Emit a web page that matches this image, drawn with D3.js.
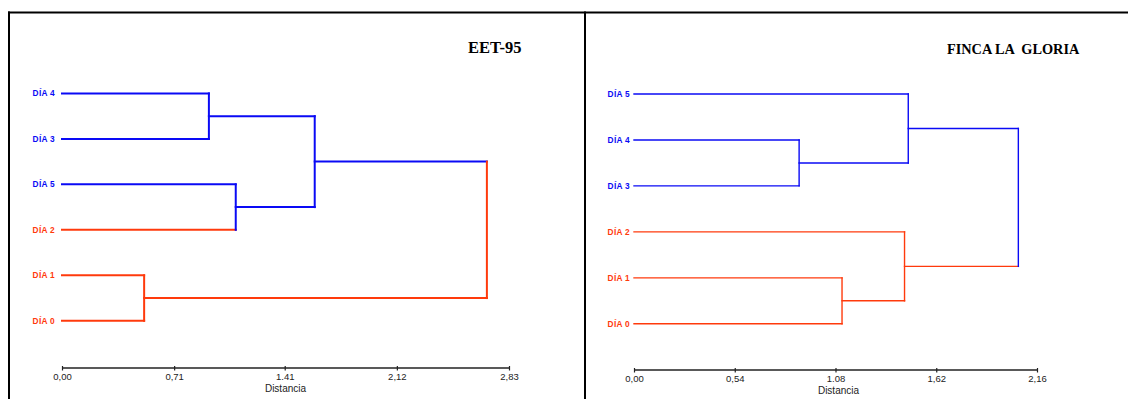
<!DOCTYPE html>
<html>
<head>
<meta charset="utf-8">
<script src="https://cdn.jsdelivr.net/npm/d3@7"></script>
<style>
  html, body { margin: 0; padding: 0; background: #fff; }
  svg { display: block; }
</style>
</head>
<body>
<svg id="chart" width="1128" height="399"></svg>
<script>
// ---- Panel 1: EET-95 ----
const eetTitle = "EET-95";
const eetLeaves = ["DÍA 4", "DÍA 3", "DÍA 5", "DÍA 2", "DÍA 1", "DÍA 0"];
const eetLeafGroup = ["b", "b", "b", "r", "r", "r"];
// linkage rows: [childA, childB, height]; indices >= leaves.length refer to earlier merges
const eetMerges = [[4, 5, 0.52], [0, 1, 0.93], [2, 3, 1.10], [7, 8, 1.60], [9, 6, 2.69]];
const eetMergeGroup = ["r", "b", "b", "b", "r"];
const eetTicks = [0, 0.71, 1.41, 2.12, 2.83];
const eetTickLabels = ["0,00", "0,71", "1.41", "2,12", "2,83"];

// ---- Panel 2: FINCA LA GLORIA ----
const fincaTitle = "FINCA LA  GLORIA";
const fincaLeaves = ["DÍA 5", "DÍA 4", "DÍA 3", "DÍA 2", "DÍA 1", "DÍA 0"];
const fincaLeafGroup = ["b", "b", "b", "r", "r", "r"];
const fincaMerges = [[1, 2, 0.885], [4, 5, 1.115], [0, 6, 1.47], [3, 7, 1.45], [8, 9, 2.06]];
const fincaMergeGroup = ["b", "r", "b", "r", "b"];
const fincaTicks = [0, 0.54, 1.08, 1.62, 2.16];
const fincaTickLabels = ["0,00", "0,54", "1.08", "1,62", "2,16"];

const axisTitle = "Distancia";
const groupColor = { b: "#0a0af5", r: "#ff3a0c" };

const svg = d3.select("#chart");

// outer frame: top rule, left edge and the divider between the panels
const frame = svg.append("g").attr("stroke", "#000").attr("stroke-width", 2);
frame.append("line").attr("x1", 8).attr("x2", 1128).attr("y1", 12.5).attr("y2", 12.5);
frame.append("line").attr("x1", 9).attr("x2", 9).attr("y1", 11.5).attr("y2", 399);
frame.append("line").attr("x1", 585).attr("x2", 585).attr("y1", 11.5).attr("y2", 399);

function dendrogram(cfg) {
  const g = svg.append("g");
  const x = d3.scaleLinear().domain([0, cfg.max]).range(cfg.xRange);
  const y = d3.scalePoint().domain(cfg.leaves).range(cfg.yRange);

  // position of every cluster: leaves first, then merges in order
  const nodes = cfg.leaves.map((name, i) => ({ h: 0, y: y(name), color: groupColor[cfg.leafGroup[i]] }));
  cfg.merges.forEach((m, i) => {
    nodes.push({ h: m[2], y: (nodes[m[0]].y + nodes[m[1]].y) / 2, color: groupColor[cfg.mergeGroup[i]], kids: [m[0], m[1]] });
  });

  const segs = [];
  nodes.forEach(node => {
    if (!node.kids) return;
    const a = nodes[node.kids[0]], b = nodes[node.kids[1]];
    // horizontal arms from each child up to this merge height
    segs.push({ x1: x(a.h), x2: x(node.h), y1: a.y, y2: a.y, c: a.color });
    segs.push({ x1: x(b.h), x2: x(node.h), y1: b.y, y2: b.y, c: b.color });
    // vertical joining bar
    segs.push({ x1: x(node.h), x2: x(node.h), y1: a.y, y2: b.y, c: node.color });
  });

  g.append("g").selectAll("line").data(segs).join("line")
    .attr("x1", d => d.x1).attr("x2", d => d.x2)
    .attr("y1", d => d.y1).attr("y2", d => d.y2)
    .attr("stroke", d => d.c)
    .attr("stroke-width", cfg.lw)
    .attr("stroke-linecap", "square");

  // leaf labels
  g.append("g").selectAll("text").data(cfg.leaves).join("text")
    .attr("x", cfg.xRange[0] - cfg.labelGap)
    .attr("y", d => y(d) + 3)
    .attr("text-anchor", "end")
    .attr("font-family", "Liberation Sans, Arial, sans-serif")
    .attr("font-weight", "bold")
    .attr("font-size", 8.3)
    .attr("letter-spacing", 0.3)
    .attr("fill", (d, i) => groupColor[cfg.leafGroup[i]])
    .text(d => d);

  // distance axis
  const axis = d3.axisBottom(x)
    .tickValues(cfg.ticks)
    .tickFormat((d, i) => cfg.tickLabels[i])
    .tickSizeInner(3).tickSizeOuter(0).tickPadding(3);
  const ag = g.append("g").attr("transform", `translate(0,${cfg.axisY})`).call(axis);
  ag.select(".domain").attr("stroke", "#222").attr("stroke-width", 1.6);
  ag.selectAll(".tick line").attr("stroke", "#222").attr("stroke-width", 1.2).attr("y1", -1.5);
  ag.selectAll(".tick text")
    .attr("font-family", "Liberation Sans, Arial, sans-serif")
    .attr("font-size", 9.5).attr("fill", "#222");

  g.append("text")
    .attr("x", (cfg.xRange[0] + cfg.xRange[1]) / 2 + cfg.axisTitleShift)
    .attr("y", cfg.axisY + 24)
    .attr("text-anchor", "middle")
    .attr("font-family", "Liberation Sans, Arial, sans-serif")
    .attr("font-size", 10).attr("fill", "#222")
    .text(axisTitle);

  g.append("text")
    .attr("x", cfg.titleX).attr("y", cfg.titleY)
    .attr("font-family", "Liberation Serif, 'Times New Roman', serif")
    .attr("font-weight", "bold")
    .attr("font-size", cfg.titleSize)
    .attr("fill", "#000")
    .style("white-space", "pre")
    .text(cfg.title);
}

dendrogram({
  title: eetTitle, titleX: 468, titleY: 52.5, titleSize: 16.5,
  leaves: eetLeaves, leafGroup: eetLeafGroup, merges: eetMerges, mergeGroup: eetMergeGroup,
  ticks: eetTicks, tickLabels: eetTickLabels, max: 2.83,
  xRange: [62, 509], yRange: [93.4, 320.8], axisY: 367.5, lw: 2, labelGap: 7, axisTitleShift: 0
});

dendrogram({
  title: fincaTitle, titleX: 947, titleY: 53.5, titleSize: 14.3,
  leaves: fincaLeaves, leafGroup: fincaLeafGroup, merges: fincaMerges, mergeGroup: fincaMergeGroup,
  ticks: fincaTicks, tickLabels: fincaTickLabels, max: 2.16,
  xRange: [634, 1037], yRange: [94, 323.8], axisY: 369.5, lw: 1.4, labelGap: 4, axisTitleShift: 3
});
</script>
</body>
</html>
